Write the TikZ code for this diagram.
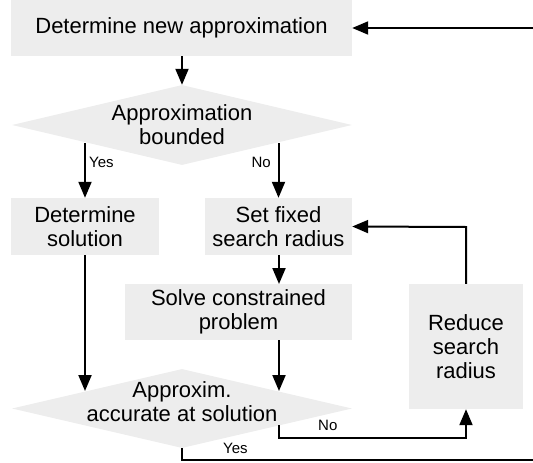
\documentclass[tikz,border=0pt]{standalone}
\usepackage{fontspec}
\setmainfont{Liberation Sans}
\usetikzlibrary{shapes.geometric,arrows.meta}
\definecolor{boxgray}{RGB}{237,237,237}
\tikzset{
  box/.style={rectangle,fill=boxgray,inner sep=0pt,align=center,font=\fontsize{22}{24}\selectfont},
  decision/.style={diamond,fill=boxgray,inner sep=0pt,minimum width=340pt,minimum height=80pt},
  dtext/.style={align=center,inner sep=0pt,font=\fontsize{22}{24}\selectfont},
  lbl/.style={inner sep=0pt,font=\fontsize{15}{18}\selectfont},
  conn/.style={line width=2pt,-{Triangle[length=16pt,width=13pt]}},
  plain/.style={line width=2pt}
}
\begin{document}
\begin{tikzpicture}[x=1pt,y=-1pt]
\useasboundingbox (0,0) rectangle (533,463);
\clip (0,0) rectangle (533,463);
% nodes
\node[box,minimum width=341pt,minimum height=56pt] (top) at (181.5,28) {Determine new approximation};
\node[decision] (d1) at (182,125) {};
\node[dtext] (d1t) at (182,125) {Approximation\\bounded};
\node[box,minimum width=148pt,minimum height=57pt] (ds) at (85,226.5) {Determine\\solution};
\node[box,minimum width=147pt,minimum height=57pt] (sf) at (278.5,226.5) {Set fixed\\search radius};
\node[box,minimum width=227pt,minimum height=56pt] (sol) at (238.5,312) {Solve constrained\\problem};
\node[box,minimum width=114pt,minimum height=125pt] (red) at (466,346.5) {Reduce\\search\\radius};
\node[decision,minimum height=79pt] (d2) at (182,408.5) {};
\node[dtext] (d2t) at (182,402) {Approxim.\\accurate at solution};
% helper coordinates
\coordinate (yes1) at (85,143);
\coordinate (no1) at (278.5,143);
\coordinate (in2a) at (85,391);
\coordinate (in2b) at (279,391);
\coordinate (no2) at (279,425);
\coordinate (no2b) at (279,438);
\coordinate (no2c) at (466,438);
\coordinate (up1) at (466,227);
\coordinate (yes2) at (182,460);
\coordinate (far1) at (545,460);
\coordinate (far2) at (545,28);
% connectors
\draw[conn] (top.south -| d1.north) -- (d1.north);
\draw[conn] (yes1) -- (ds.north);
\draw[conn] (no1) -- (sf.north);
\draw[conn] (279,255) -- (279,284);
\draw[conn] (ds.south) -- (in2a);
\draw[conn] (279,340) -- (in2b);
\draw[conn] (no2) -- (no2b) -- (no2c) -- (red.south);
\draw[conn] (red.north) -- (up1) -- (sf.east);
\draw[conn] (d2.south) -- (yes2) -- (far1) -- (far2) -- (top.east);
% labels
\node[lbl,anchor=west] (lyes1) at (89,162) {Yes};
\node[lbl,anchor=east] (lno1) at (271,162) {No};
\node[lbl,anchor=west] (lno2) at (318,425) {No};
\node[lbl,anchor=west] (lyes2) at (223,448) {Yes};
\end{tikzpicture}
\end{document}
